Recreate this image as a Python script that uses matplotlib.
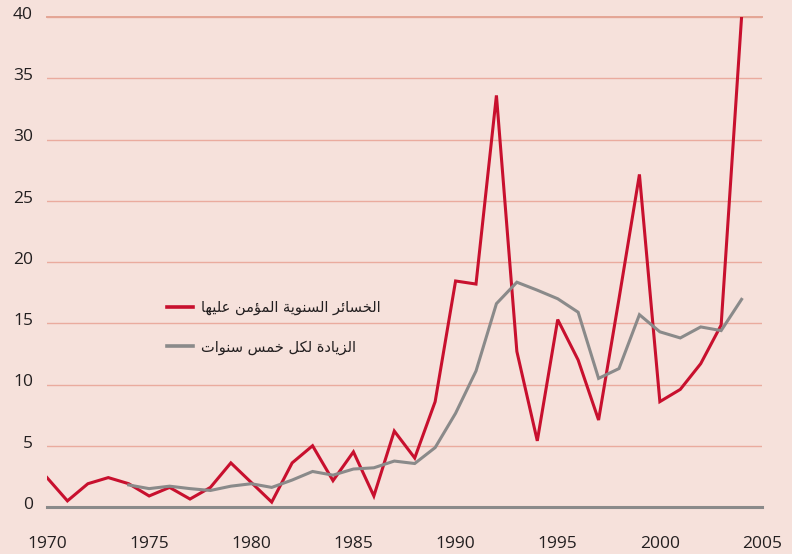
import matplotlib
matplotlib.use("Agg")
import matplotlib.pyplot as plt
import matplotlib.transforms as mtransforms

# ---------------- data ----------------
years_annual = list(range(1970, 2005))
annual_losses = [2.4, 0.5, 1.9, 2.4, 1.9, 0.9, 1.6, 0.65, 1.6, 3.6,
                 2.0, 0.4, 3.6, 5.0, 2.15, 4.5, 0.9, 6.2, 4.0, 8.6,
                 18.45, 18.2, 33.6, 12.7, 5.4, 15.3, 12.0, 7.1, 17.0, 27.15,
                 8.6, 9.6, 11.7, 14.85, 40.0]

years_avg = list(range(1974, 2005))
five_year_avg = [1.8, 1.5, 1.7, 1.5, 1.35, 1.7, 1.9, 1.6, 2.2, 2.9,
                 2.6, 3.1, 3.2, 3.75, 3.55, 4.85, 7.65, 11.1, 16.6, 18.35,
                 17.7, 17.0, 15.9, 10.5, 11.3, 15.7, 14.3, 13.8, 14.7, 14.4,
                 16.95]

series_labels = ["الخسائر السنوية المؤمن عليها", "الزيادة لكل خمس سنوات"]
y_ticks = [0, 5, 10, 15, 20, 25, 30, 35, 40]
x_ticks = [1970, 1975, 1980, 1985, 1990, 1995, 2000, 2005]

# ---------------- minimal Arabic shaping (presentation forms) ----------------
FORMS = {  # isolated, final, initial, medial
    'ا': ('\uFE8D', '\uFE8E', None, None),
    'ل': ('\uFEDD', '\uFEDE', '\uFEDF', '\uFEE0'),
    'خ': ('\uFEA5', '\uFEA6', '\uFEA7', '\uFEA8'),
    'س': ('\uFEB1', '\uFEB2', '\uFEB3', '\uFEB4'),
    'ئ': ('\uFE89', '\uFE8A', '\uFE8B', '\uFE8C'),
    'ر': ('\uFEAD', '\uFEAE', None, None),
    'ن': ('\uFEE5', '\uFEE6', '\uFEE7', '\uFEE8'),
    'و': ('\uFEED', '\uFEEE', None, None),
    'ي': ('\uFEF1', '\uFEF2', '\uFEF3', '\uFEF4'),
    'ة': ('\uFE93', '\uFE94', None, None),
    'م': ('\uFEE1', '\uFEE2', '\uFEE3', '\uFEE4'),
    'ؤ': ('\uFE85', '\uFE86', None, None),
    'ع': ('\uFEC9', '\uFECA', '\uFECB', '\uFECC'),
    'ه': ('\uFEE9', '\uFEEA', '\uFEEB', '\uFEEC'),
    'ز': ('\uFEAF', '\uFEB0', None, None),
    'د': ('\uFEA9', '\uFEAA', None, None),
    'ك': ('\uFED9', '\uFEDA', '\uFEDB', '\uFEDC'),
    'ت': ('\uFE95', '\uFE96', '\uFE97', '\uFE98'),
}


def dual(c):
    return c in FORMS and FORMS[c][2] is not None


def shape(text):
    out = []
    n = len(text)
    for i, c in enumerate(text):
        if c not in FORMS:
            out.append(c)
            continue
        prev_c = text[i - 1] if i > 0 else None
        next_c = text[i + 1] if i < n - 1 else None
        jp = prev_c is not None and dual(prev_c)
        jn = next_c is not None and next_c in FORMS and dual(c)
        iso, fin, ini, med = FORMS[c]
        if jp and jn:
            out.append(med)
        elif jp:
            out.append(fin)
        elif jn:
            out.append(ini)
        else:
            out.append(iso)
    return ''.join(reversed(out))


# ---------------- style ----------------
plt.rcParams['font.family'] = ['Open Sans', 'DejaVu Sans']
BG = '#f6e1db'
GRID = '#eaab9e'
RED = '#c8102e'
GRAY = '#8a8a8a'
TXT = '#231f20'

fig = plt.figure(figsize=(7.92, 5.54), dpi=100, facecolor=BG)
W, H = 792, 554
ax = fig.add_axes([47 / W, 1 - 507 / H, (762 - 47) / W, (507 - 17) / H])
ax.set_facecolor(BG)

ax.plot(years_annual, annual_losses, color=RED, lw=2.2, label=shape(series_labels[0]),
        zorder=3, solid_joinstyle='miter')
ax.plot(years_avg, five_year_avg, color=GRAY, lw=2.2, label=shape(series_labels[1]),
        zorder=3, solid_joinstyle='miter')

ax.set_xlim(1970, 2005)
ax.set_ylim(0, 40)
ax.set_yticks(y_ticks)
ax.set_xticks(x_ticks)
ax.set_yticklabels([str(v) for v in y_ticks])
ax.set_xticklabels([str(v) for v in x_ticks])
ax.yaxis.grid(True, color=GRID, lw=1.0, zorder=1)
ax.set_axisbelow(True)

for s in ['left', 'right']:
    ax.spines[s].set_visible(False)
ax.spines['top'].set_color('#e4a595')
ax.spines['top'].set_linewidth(1.4)
ax.spines['bottom'].set_color(GRAY)
ax.spines['bottom'].set_linewidth(2.2)
ax.spines['bottom'].set_zorder(4)

ax.tick_params(axis='both', length=0, labelsize=12.5, labelcolor=TXT)
ax.tick_params(axis='y', pad=10)
ax.tick_params(axis='x', pad=21)

offset = mtransforms.ScaledTranslation(0, 3 / 72, fig.dpi_scale_trans)
for lbl in ax.get_yticklabels():
    lbl.set_transform(lbl.get_transform() + offset)

leg = ax.legend(loc='upper left', bbox_to_anchor=(167 / W, 1 - 300 / H),
                bbox_transform=fig.transFigure, frameon=False,
                fontsize=10.5, handlelength=1.8, handletextpad=0.55,
                labelspacing=1.65, borderaxespad=0, borderpad=0)
for t in leg.get_texts():
    t.set_color(TXT)
    t.set_family(['DejaVu Sans'])
for h in leg.get_lines():
    h.set_linewidth(2.6)

fig.savefig('out.png', dpi=100, facecolor=BG)
